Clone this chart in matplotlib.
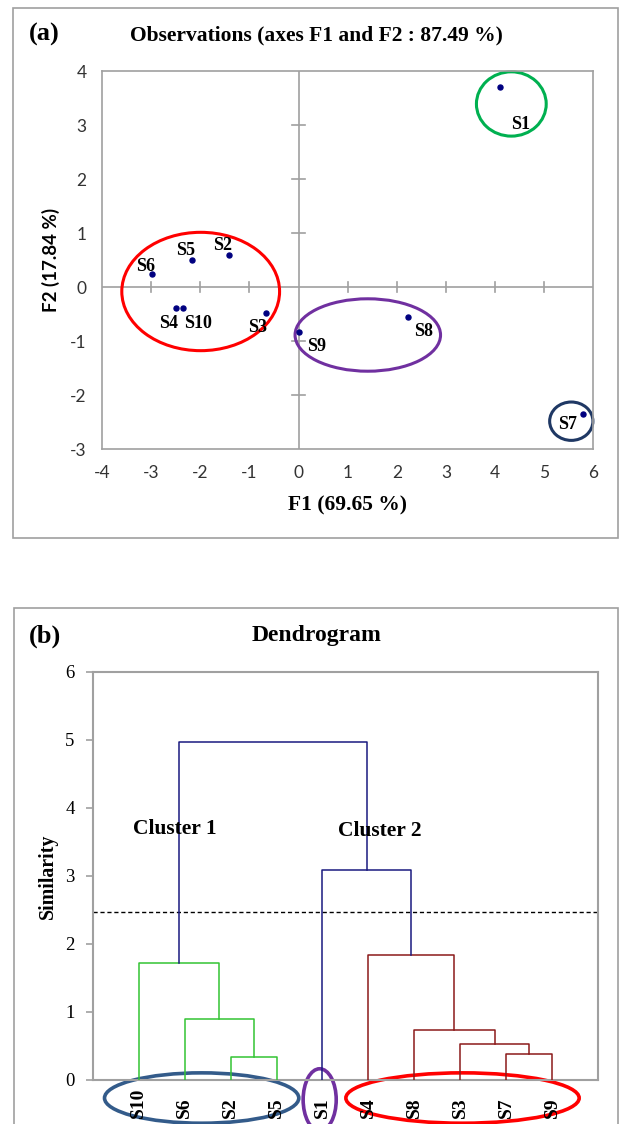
import numpy as np
import matplotlib
matplotlib.use("Agg")
import matplotlib.pyplot as plt
from matplotlib.patches import Ellipse, Rectangle

plt.rcParams['axes.unicode_minus'] = False

# ---- data: PCA scores (panel a) ----
obs_names = ['S1', 'S2', 'S3', 'S4', 'S5', 'S6', 'S7', 'S8', 'S9', 'S10']
f1_scores = [4.09, -1.42, -0.67, -2.50, -2.17, -2.99, 5.79, 2.22, 0.00, -2.36]
f2_scores = [3.70, 0.59, -0.48, -0.39, 0.50, 0.24, -2.35, -0.55, -0.83, -0.39]

# ---- data: dendrogram (panel b) ----
leaves = ['S10', 'S6', 'S2', 'S5', 'S1', 'S4', 'S8', 'S3', 'S7', 'S9']
merge_a = ['S2', 'S6', 'S10', 'S7', 'S3', 'S8', 'S4', 'S1', 'm3']
merge_b = ['S5', 'm1', 'm2', 'S9', 'm4', 'm5', 'm6', 'm7', 'm8']
merge_h = [0.34, 0.89, 1.72, 0.38, 0.53, 0.73, 1.84, 3.09, 4.96]
merge_grp = ['c1', 'c1', 'c1', 'c2', 'c2', 'c2', 'c2', 'top', 'top']
cut_level = 2.47

SERIF = 'Liberation Serif'
SANS = 'Lato'
GRAY = '#a0a0a0'

W, H = 619, 1124
fig = plt.figure(figsize=(W / 100, H / 100), dpi=100)


def fx(px):
    return px / W


def fy(py):
    return 1 - py / H


# outer frames
fig.add_artist(Rectangle((fx(12.5), fy(538.3)), fx(605), 530 / H, transform=fig.transFigure,
                         fill=False, ec=GRAY, lw=1.2))
fig.add_artist(Rectangle((fx(14), fy(1140)), fx(603.5), (1140 - 608.3) / H, transform=fig.transFigure,
                         fill=False, ec=GRAY, lw=1.2, clip_on=False))

# ================= panel (a) =================
ax = fig.add_axes([fx(101.9), fy(449.3), fx(593.4 - 101.9), (449.3 - 71) / H])
ax.set_xlim(-4, 6)
ax.set_ylim(-3, 4)
for s in ax.spines.values():
    s.set_color(GRAY)
    s.set_linewidth(1.2)
ax.axhline(0, color=GRAY, lw=1.2, zorder=1)
ax.axvline(0, color=GRAY, lw=1.2, zorder=1)
# small cross ticks on the centre lines
for t in range(-3, 6):
    if t != 0:
        ax.plot([t, t], [-0.09, 0.09], color=GRAY, lw=1.2, zorder=1)
for t in range(-2, 4):
    if t != 0:
        ax.plot([-0.13, 0.13], [t, t], color=GRAY, lw=1.2, zorder=1)

ax.set_xticks(range(-4, 7))
ax.set_yticks(range(-3, 5))
ax.tick_params(length=0, labelsize=12.5, colors='#333333')
ax.tick_params(axis='x', pad=11)
ax.tick_params(axis='y', pad=11)
for lab in ax.get_xticklabels() + ax.get_yticklabels():
    lab.set_family(SANS)

ax.plot(f1_scores, f2_scores, 'o', color='#000080', ms=3.6, zorder=3)

label_off = {'S1': (21, -37), 'S2': (-6, 10), 'S3': (-8, -14), 'S4': (-7, -15),
             'S5': (-6, 10), 'S6': (-6, 8), 'S7': (-16, -10), 'S8': (16, -15),
             'S9': (18, -14), 'S10': (15, -15)}
for name, x, y in zip(obs_names, f1_scores, f2_scores):
    ax.annotate(name, (x, y), xytext=label_off[name], textcoords='offset pixels',
                ha='center', va='center', fontsize=13, fontweight='bold', family=SERIF)

# group ellipses
ax.add_patch(Ellipse((-1.99, -0.08), 3.21, 2.19, fill=False, ec='#ff0000', lw=2.2, clip_on=False))
ax.add_patch(Ellipse((1.41, -0.885), 2.96, 1.34, fill=False, ec='#7030a0', lw=2.2, clip_on=False))
ax.add_patch(Ellipse((4.33, 3.39), 1.42, 1.19, fill=False, ec='#00b050', lw=2.2, clip_on=False))
ax.add_patch(Ellipse((5.55, -2.48), 0.88, 0.71, fill=False, ec='#1f3864', lw=2.2, clip_on=False))

fig.text(fx(44), fy(34), '(a)', fontsize=19, fontweight='bold', family=SERIF, ha='center', va='center')
fig.text(fx(316), fy(35), 'Observations (axes F1 and F2 : 87.49 %)', fontsize=15.5,
         fontweight='bold', family=SERIF, ha='center', va='center')
fig.text(fx(348), fy(505), 'F1 (69.65 %)', fontsize=15.5, fontweight='bold', family=SERIF,
         ha='center', va='center')
fig.text(fx(51), fy(260), 'F2 (17.84 %)', fontsize=13.5, fontweight='bold', family=SANS,
         ha='center', va='center', rotation=90)

# ================= panel (b) =================
bx = fig.add_axes([fx(92.8), fy(1080), fx(598 - 92.8), (1080 - 671.7) / H])
bx.set_xlim(0, len(leaves) + 1)
bx.set_ylim(0, 6)
for s in bx.spines.values():
    s.set_color(GRAY)
    s.set_linewidth(1.5)

colors = {'c1': '#33c433', 'c2': '#8b1a1a', 'top': '#1a1a80'}
pos = {name: (i + 1, 0.0) for i, name in enumerate(leaves)}
for k, (a, b, h, g) in enumerate(zip(merge_a, merge_b, merge_h, merge_grp)):
    xa, ha = pos[a]
    xb, hb = pos[b]
    bx.plot([xa, xa, xb, xb], [ha, h, h, hb], color=colors[g], lw=1.1, zorder=3)
    pos['m%d' % (k + 1)] = ((xa + xb) / 2, h)

bx.axhline(cut_level, color='black', lw=1.0, ls=(0, (3, 2)), zorder=2)

bx.set_yticks(range(0, 7))
bx.tick_params(axis='y', length=5, width=1.2, color=GRAY, pad=8, labelsize=13.5)
for lab in bx.get_yticklabels():
    lab.set_family(SERIF)
bx.set_xticks(range(1, len(leaves) + 1))
bx.set_xticklabels(leaves, rotation=90, fontsize=14, fontweight='bold', family=SERIF)
bx.tick_params(axis='x', length=0, pad=27)
for lab in bx.get_xticklabels():
    lab.set_va('bottom')

bx.add_patch(Ellipse((2.37, -0.265), 4.23, 0.74, fill=False, ec='#335b8a', lw=2.6, clip_on=False))
bx.add_patch(Ellipse((4.94, -0.29), 0.72, 0.91, fill=False, ec='#7030a0', lw=2.6, clip_on=False))
bx.add_patch(Ellipse((8.05, -0.265), 5.08, 0.74, fill=False, ec='#ff0000', lw=2.6, clip_on=False))

bx.text(1.78, 3.69, 'Cluster 1', fontsize=15.5, fontweight='bold', family=SERIF, ha='center', va='center')
bx.text(6.25, 3.66, 'Cluster 2', fontsize=15.5, fontweight='bold', family=SERIF, ha='center', va='center')

fig.text(fx(45), fy(636), '(b)', fontsize=19, fontweight='bold', family=SERIF, ha='center', va='center')
fig.text(fx(317), fy(636), 'Dendrogram', fontsize=17, fontweight='bold', family=SERIF,
         ha='center', va='center')
fig.text(fx(48), fy(876), 'Similarity', fontsize=14.3, fontweight='bold', family=SERIF,
         ha='center', va='center', rotation=90)

fig.savefig('out.png', dpi=100)
